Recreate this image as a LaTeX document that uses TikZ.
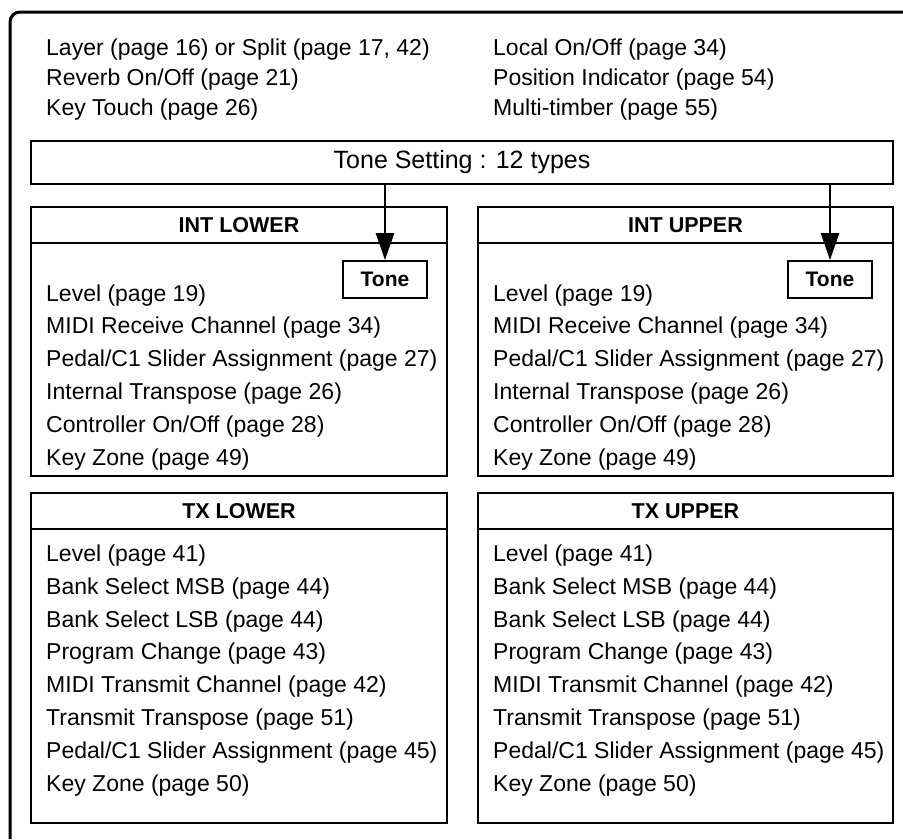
\documentclass[tikz,border=0pt]{standalone}
\usepackage{fontspec}
\setmainfont{Liberation Sans}
\usetikzlibrary{arrows.meta}
\tikzset{
  frame/.style={draw=black,line width=3pt,rounded corners=10pt},   % outer frame
  panel/.style={draw=black,line width=1.8pt,inner sep=0pt},
  hline/.style={black,line width=1.6pt},
  item/.style={anchor=base west,inner sep=0pt,font=\fontsize{23}{27}\selectfont},
  head/.style={inner sep=0pt,text height=15.5pt,text depth=0pt,font=\bfseries\fontsize{21.5}{25}\selectfont},
  tonebox/.style={draw=black,line width=1.8pt,minimum width=84pt,minimum height=37pt,inner sep=0pt,font=\bfseries\fontsize{21}{25}\selectfont},
  feed/.style={-{Triangle[length=27pt,width=18pt]},line width=2.4pt},
}

\begin{document}
\begin{tikzpicture}[x=1pt,y=-1pt]
  \useasboundingbox (0,0) rectangle (903,839);
  \draw[frame] (10,839) -- (10,12) -- (903,12);
  % general settings
  \foreach \txt [count=\i] in {{Layer (page 16) or Split (page 17, 42)},{Reverb On/Off (page 21)},{Key Touch (page 26)}}
    \node[item] (gl\i) at (46,{25+30*\i}) {\txt};
  \foreach \txt [count=\i] in {{Local On/Off (page 34)},{Position Indicator (page 54)},{Multi-timber (page 55)}}
    \node[item] (gr\i) at (493,{25+30*\i}) {\txt};
  \node[panel,minimum width=862pt,minimum height=43pt,font=\fontsize{25}{30}\selectfont] (setting) at (462,162.5) {Tone Setting : 12 types};
  % panels
  \node[panel,minimum width=416pt,minimum height=269pt] (intL) at (239,341.5) {};
  \node[panel,minimum width=415pt,minimum height=269pt] (intU) at (685.5,341.5) {};
  \node[panel,minimum width=416pt,minimum height=330pt] (txL) at (239,658) {};
  \node[panel,minimum width=415pt,minimum height=330pt] (txU) at (685.5,658) {};
  \foreach \p/\t in {intL/INT LOWER,intU/INT UPPER,txL/TX LOWER,txU/TX UPPER}{
    \draw[hline] ([yshift=-37pt]\p.north west) -- ([yshift=-37pt]\p.north east);
    \node[head] (\p h) at ([yshift=-18.5pt]\p.north) {\t};
  }
  \node[tonebox] (toneL) at (385,279.5) {Tone};
  \node[tonebox] (toneU) at (830,279.5) {Tone};
  \draw[feed] (setting.south -| toneL) -- (toneL.north);
  \draw[feed] (setting.south -| toneU) -- (toneU.north);
  % lists
  \foreach \s/\xx in {L/46,U/493}{
    \foreach \txt [count=\i] in {{Level (page 19)},{MIDI Receive Channel (page 34)},{Pedal/C1 Slider Assignment (page 27)},{Internal Transpose (page 26)},{Controller On/Off (page 28)},{Key Zone (page 49)}}
      \node[item] (int\s\i) at (\xx,{268.2+32.8*\i}) {\txt};
    \foreach \txt [count=\i] in {{Level (page 41)},{Bank Select MSB (page 44)},{Bank Select LSB (page 44)},{Program Change (page 43)},{MIDI Transmit Channel (page 42)},{Transmit Transpose (page 51)},{Pedal/C1 Slider Assignment (page 45)},{Key Zone (page 50)}}
      \node[item] (tx\s\i) at (\xx,{528.6+32.8*\i}) {\txt};
  }
\end{tikzpicture}
\end{document}
